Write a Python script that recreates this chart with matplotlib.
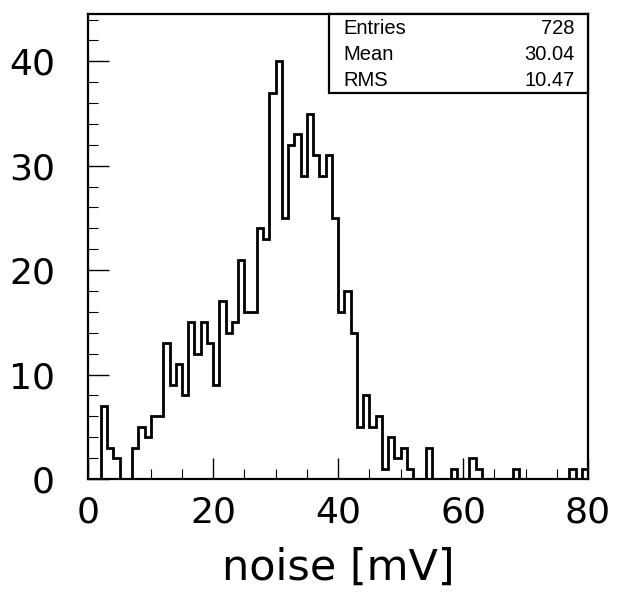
import numpy as np
import matplotlib
matplotlib.use("Agg")
import matplotlib.pyplot as plt
from matplotlib.ticker import MultipleLocator
from matplotlib.patches import Rectangle

# ---- data ----
x_min, x_max, n_bins = 0.0, 80.0, 80
counts = [0, 0, 7, 3, 2, 0, 0, 3, 5, 4, 6, 6,
          13, 9, 11, 8, 15, 12, 15, 13, 9, 17, 14, 15,
          21, 16, 16, 24, 23, 37, 40, 25, 32, 33, 29, 35, 31, 29, 31, 25,
          16, 18, 14, 5, 8, 5, 6, 1, 4, 2, 3, 1,
          0, 0, 3, 0, 0, 0, 1, 0, 0, 2, 1, 0, 0, 0, 0, 0, 1,
          0, 0, 0, 0, 0, 0, 0, 0, 1, 0, 1]
x_ticks = [0, 20, 40, 60, 80]
y_ticks = [0, 10, 20, 30, 40]
stat_names = ["Entries", "Mean", "RMS"]
stat_values = ["728", "30.04", "10.47"]
x_label = "noise [mV]"

edges = np.linspace(x_min, x_max, n_bins + 1)

W, H = 620, 603
fig = plt.figure(figsize=(W / 100, H / 100), dpi=100)
ax = fig.add_axes([88.3 / W, 1 - 479 / H, (588 - 88.3) / W, (479 - 14.3) / H])

ax.stairs(counts, edges, color="black", linewidth=2.0, baseline=0)

ax.set_xlim(x_min, x_max)
ax.set_ylim(0, 44.5)
ax.set_xticks(x_ticks)
ax.set_yticks(y_ticks)
ax.xaxis.set_minor_locator(MultipleLocator(5))
ax.yaxis.set_minor_locator(MultipleLocator(2))
ax.tick_params(which="both", direction="in", top=False, right=False, color="black")
ax.tick_params(which="major", length=15, width=1.0)
ax.tick_params(which="minor", length=7, width=0.8)
ax.tick_params(axis="x", which="major", labelsize=26, pad=12)
ax.tick_params(axis="y", which="major", labelsize=26, pad=24)
for lab in ax.get_xticklabels() + ax.get_yticklabels():
    lab.set_family("DejaVu Sans")
for sp in ax.spines.values():
    sp.set_linewidth(1.6)

ax.set_xlabel(x_label, fontsize=31, family="DejaVu Sans", labelpad=12)

# stats box (pixel coordinates)
bx0, bx1, by0, by1 = 329, 588, 14.3, 93.3
fig.patches.append(Rectangle((bx0 / W, 1 - by1 / H), (bx1 - bx0) / W, (by1 - by0) / H,
                             transform=fig.transFigure, facecolor="white",
                             edgecolor="black", linewidth=1.6, zorder=5))
row_y = [29, 54, 80]
for name, val, ry in zip(stat_names, stat_values, row_y):
    fig.text(343 / W, 1 - ry / H, name, fontsize=14.5, family="Liberation Sans",
             ha="left", va="center", zorder=6)
    fig.text(575 / W, 1 - ry / H, val, fontsize=14.5, family="Liberation Sans",
             ha="right", va="center", zorder=6)

fig.savefig("out.png", dpi=100)
